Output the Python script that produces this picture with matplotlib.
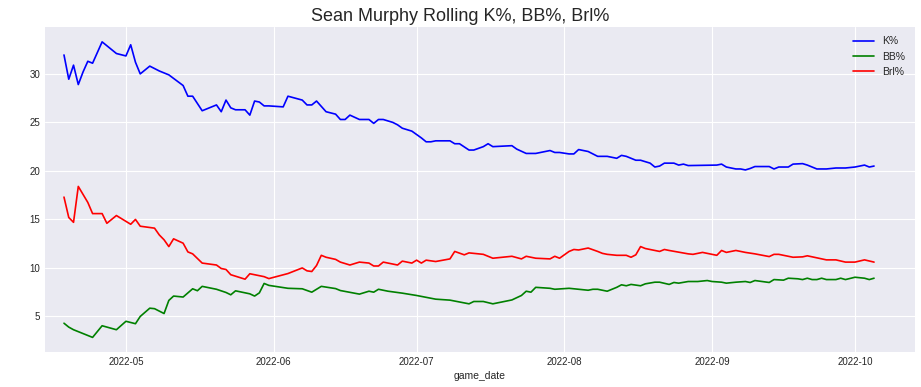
import pandas as pd
import matplotlib
matplotlib.use("Agg")
import matplotlib.pyplot as plt
import matplotlib.dates as mdates

plt.style.use("seaborn-v0_8-darkgrid")
plt.rcParams['font.family'] = ['Liberation Sans', 'DejaVu Sans']

# rolling K% (dates are 2022 month-day)
k_dates = ["04-18", "04-19", "04-20", "04-21", "04-22", "04-23", "04-24", "04-26", "04-29",
           "05-01", "05-02", "05-03", "05-04", "05-06", "05-08", "05-10", "05-13", "05-14",
           "05-15", "05-17", "05-20", "05-21", "05-22", "05-23", "05-24", "05-26", "05-27",
           "05-28", "05-29", "05-30", "05-31", "06-03", "06-04", "06-07", "06-08", "06-09",
           "06-10", "06-12", "06-14", "06-15", "06-16", "06-17", "06-19", "06-21", "06-22",
           "06-23", "06-24", "06-26", "06-27", "06-28", "06-30", "07-02", "07-03", "07-04",
           "07-05", "07-08", "07-09", "07-10", "07-12", "07-13", "07-15", "07-16", "07-17",
           "07-21", "07-22", "07-24", "07-26", "07-29", "07-30", "07-31", "08-02", "08-03",
           "08-04", "08-05", "08-06", "08-08", "08-10", "08-12", "08-13", "08-14", "08-16",
           "08-17", "08-19", "08-20", "08-21", "08-22", "08-24", "08-25", "08-26", "08-27",
           "09-02", "09-03", "09-04", "09-06", "09-07", "09-08", "09-09", "09-10", "09-13",
           "09-14", "09-15", "09-17", "09-18", "09-20", "09-21", "09-23", "09-25", "09-27",
           "09-29", "10-01", "10-03", "10-04", "10-05"]
k_pct = [31.95, 29.45, 30.9, 28.9, 30.2, 31.3, 31.1, 33.3, 32.1,
         31.85, 33.0, 31.2, 30.0, 30.8, 30.3, 29.9, 28.8, 27.7,
         27.7, 26.2, 26.8, 26.1, 27.3, 26.5, 26.3, 26.3, 25.75,
         27.2, 27.1, 26.7, 26.7, 26.6, 27.7, 27.3, 26.8, 26.8,
         27.2, 26.1, 25.85, 25.3, 25.3, 25.75, 25.3, 25.3, 24.9,
         25.3, 25.3, 25.0, 24.75, 24.4, 24.1, 23.4, 23.0, 23.0,
         23.1, 23.1, 22.8, 22.8, 22.15, 22.15, 22.5, 22.8, 22.5,
         22.6, 22.25, 21.8, 21.8, 22.1, 21.9, 21.9, 21.75, 21.75,
         22.2, 22.1, 22.0, 21.5, 21.5, 21.3, 21.6, 21.5, 21.1,
         21.1, 20.8, 20.4, 20.5, 20.8, 20.8, 20.6, 20.7, 20.55,
         20.6, 20.7, 20.4, 20.2, 20.2, 20.1, 20.25, 20.45, 20.45,
         20.2, 20.4, 20.4, 20.7, 20.75, 20.6, 20.2, 20.2, 20.3,
         20.3, 20.4, 20.6, 20.4, 20.5]

# rolling BB%
bb_dates = ["04-18", "04-19", "04-20", "04-24", "04-26", "04-29", "05-01", "05-03", "05-04",
            "05-06", "05-07", "05-09", "05-10", "05-11", "05-13", "05-15", "05-16", "05-17",
            "05-20", "05-22", "05-23", "05-24", "05-27", "05-28", "05-29", "05-30", "05-31",
            "06-04", "06-07", "06-09", "06-11", "06-14", "06-15", "06-19", "06-21", "06-22",
            "06-23", "06-25", "06-28", "07-01", "07-05", "07-08", "07-12", "07-13", "07-15",
            "07-17", "07-21", "07-23", "07-24", "07-25", "07-26", "07-29", "07-30", "08-02",
            "08-04", "08-06", "08-07", "08-08", "08-10", "08-12", "08-13", "08-14", "08-15",
            "08-17", "08-18", "08-20", "08-21", "08-23", "08-24", "08-25", "08-27", "08-29",
            "08-31", "09-01", "09-03", "09-04", "09-06", "09-08", "09-09", "09-10", "09-13",
            "09-14", "09-16", "09-17", "09-19", "09-20", "09-21", "09-22", "09-23", "09-24",
            "09-25", "09-27", "09-28", "09-29", "10-01", "10-03", "10-04", "10-05"]
bb_pct = [4.3, 3.9, 3.63, 2.84, 4.04, 3.63, 4.5, 4.25, 5.0,
          5.85, 5.8, 5.3, 6.65, 7.1, 7.0, 7.85, 7.65, 8.1,
          7.8, 7.47, 7.23, 7.64, 7.33, 7.1, 7.43, 8.4, 8.2,
          7.9, 7.85, 7.5, 8.1, 7.87, 7.67, 7.3, 7.6, 7.5,
          7.8, 7.6, 7.4, 7.16, 6.78, 6.68, 6.3, 6.54, 6.54,
          6.3, 6.7, 7.16, 7.6, 7.5, 8.0, 7.9, 7.8, 7.9,
          7.8, 7.7, 7.8, 7.8, 7.6, 8.0, 8.26, 8.16, 8.3,
          8.16, 8.36, 8.53, 8.53, 8.3, 8.5, 8.43, 8.6, 8.6,
          8.7, 8.6, 8.53, 8.43, 8.53, 8.6, 8.5, 8.7, 8.5,
          8.8, 8.74, 8.94, 8.88, 8.8, 8.94, 8.8, 8.8, 8.94,
          8.8, 8.8, 8.94, 8.8, 9.04, 8.94, 8.8, 8.94]

# rolling barrel %
brl_dates = ["04-18", "04-19", "04-20", "04-21", "04-23", "04-24", "04-26", "04-27", "04-29",
             "05-02", "05-03", "05-04", "05-07", "05-08", "05-09", "05-10", "05-11", "05-13",
             "05-14", "05-15", "05-17", "05-20", "05-21", "05-22", "05-23", "05-26", "05-27",
             "05-30", "05-31", "06-04", "06-07", "06-08", "06-09", "06-10", "06-11", "06-12",
             "06-14", "06-15", "06-17", "06-19", "06-21", "06-22", "06-23", "06-24", "06-27",
             "06-28", "06-30", "07-01", "07-02", "07-03", "07-05", "07-08", "07-09", "07-11",
             "07-12", "07-15", "07-17", "07-21", "07-23", "07-24", "07-26", "07-29", "07-30",
             "07-31", "08-02", "08-03", "08-04", "08-06", "08-08", "08-09", "08-10", "08-12",
             "08-14", "08-15", "08-16", "08-17", "08-18", "08-21", "08-22", "08-23", "08-27",
             "08-28", "08-30", "09-02", "09-03", "09-04", "09-06", "09-08", "09-10", "09-13",
             "09-14", "09-15", "09-18", "09-20", "09-21", "09-23", "09-25", "09-27", "09-29",
             "10-01", "10-03", "10-05"]
brl_pct = [17.3, 15.2, 14.7, 18.4, 16.75, 15.6, 15.6, 14.6, 15.4,
           14.5, 15.0, 14.3, 14.1, 13.4, 12.9, 12.2, 13.0, 12.55,
           11.65, 11.45, 10.5, 10.3, 9.94, 9.84, 9.3, 8.84, 9.4,
           9.1, 8.9, 9.42, 10.0, 9.7, 9.63, 10.25, 11.3, 11.1,
           10.88, 10.6, 10.3, 10.6, 10.5, 10.2, 10.2, 10.6, 10.3,
           10.7, 10.5, 10.8, 10.5, 10.8, 10.66, 10.93, 11.7, 11.35,
           11.55, 11.4, 11.0, 11.2, 10.93, 11.2, 11.0, 10.93, 11.2,
           11.0, 11.7, 11.9, 11.85, 12.05, 11.7, 11.5, 11.4, 11.3,
           11.3, 11.1, 11.35, 12.2, 12.0, 11.7, 11.9, 11.8, 11.45,
           11.4, 11.6, 11.3, 11.8, 11.6, 11.8, 11.6, 11.45, 11.17,
           11.4, 11.4, 11.1, 11.14, 11.25, 11.04, 10.83, 10.83, 10.6,
           10.6, 10.83, 10.6]


def to_dates(md):
    return pd.to_datetime(["2022-" + s for s in md])


fig = plt.figure(figsize=(9.21, 3.87), dpi=100)
ax = fig.add_axes([0.049, 0.09, 0.944, 0.84])

ax.plot(to_dates(k_dates), k_pct, color='blue', lw=1.2, label='K%')
ax.plot(to_dates(bb_dates), bb_pct, color='green', lw=1.2, label='BB%')
ax.plot(to_dates(brl_dates), brl_pct, color='red', lw=1.2, label='Brl%')

ax.set_xlim(pd.Timestamp("2022-04-14 01:00"), pd.Timestamp("2022-10-13 12:00"))
ax.xaxis.set_major_locator(mdates.MonthLocator())
ax.xaxis.set_major_formatter(mdates.DateFormatter('%Y-%m'))
ax.tick_params(labelsize=7)
ax.set_xlabel('game_date', fontsize=7.5, labelpad=3)
ax.legend(loc='upper right', fontsize=7.5, frameon=False)

# title sits on the figure centre, not the axes centre
fig.suptitle('Sean Murphy Rolling K%, BB%, Brl%', fontsize=13, x=0.5, y=0.935, va='bottom')

fig.savefig('out.png', dpi=100)
